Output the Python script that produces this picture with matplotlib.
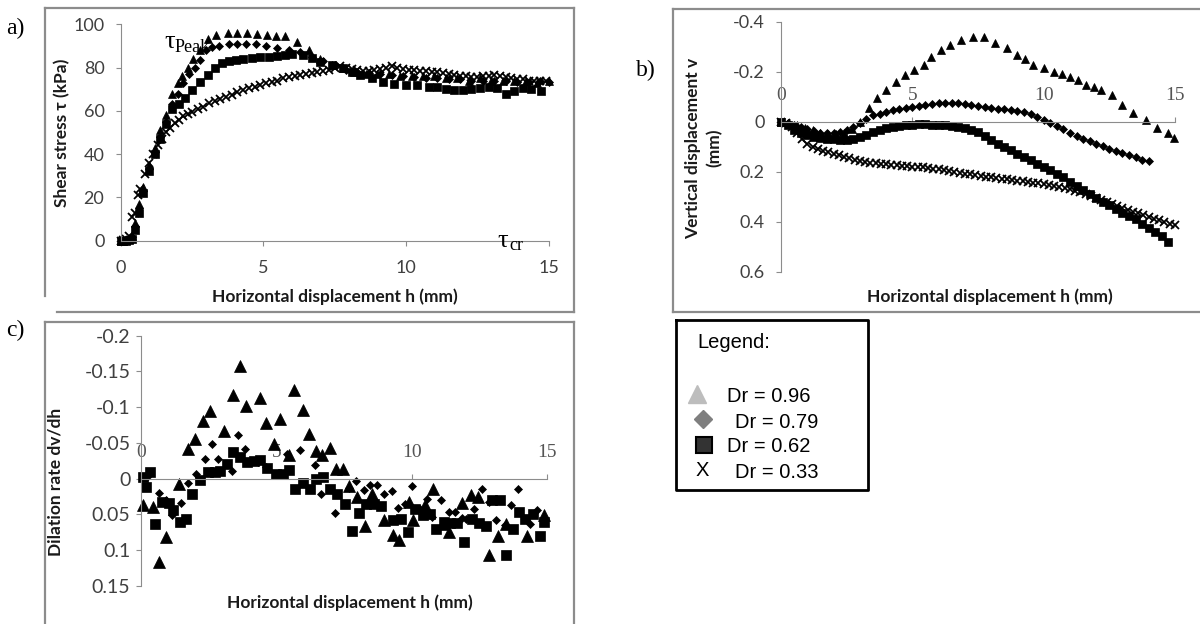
import matplotlib
matplotlib.use("Agg")
import matplotlib.pyplot as plt
from matplotlib.lines import Line2D

# ---------------- data: a) shear stress vs horizontal displacement ----------------
a_h_096 = [0, 0.1, 0.2, 0.3, 0.4, 0.5, 0.65, 0.8, 1.0, 1.2, 1.4, 1.6, 1.8, 2.0, 2.15, 2.35, 2.55, 2.8, 3.05, 3.35,
           3.75, 4.1, 4.45, 4.8, 5.15, 5.45, 5.75, 6.2, 6.6, 7.0, 7.4, 7.8, 8.2, 8.6, 9.0, 9.4, 9.8, 10.2, 10.6, 11.0,
           11.4, 11.8, 12.2, 12.6, 13.0, 13.4, 13.8, 14.2, 14.6, 15.0]
a_t_096 = [0, 0, 0.5, 1, 2, 8, 17, 25, 35, 43, 51, 58, 68, 73, 76, 80, 84, 88, 93, 95,
           96, 96, 96, 95.5, 95, 94.5, 94.5, 92, 88, 84, 81, 80, 78, 77, 77, 77, 76, 76, 76, 76,
           75, 75, 74, 75, 74, 74, 74, 74, 73, 74]
a_h_079 = [0, 0.1, 0.2, 0.3, 0.4, 0.5, 0.65, 0.8, 1.0, 1.2, 1.4, 1.6, 1.8, 2.0, 2.2, 2.4, 2.6, 2.8, 3.0, 3.2,
           3.45, 3.8, 4.1, 4.4, 4.75, 5.1, 5.5, 5.9, 6.3, 6.7, 7.1, 7.5, 7.9, 8.3, 8.7, 9.1, 9.5, 9.9, 10.3, 10.7,
           11.1, 11.5, 11.9, 12.3, 12.7, 13.1, 13.5, 13.9, 14.3, 14.7, 15.0]
a_t_079 = [0, 0, 0.5, 1, 1.5, 7, 15, 23, 33, 41, 48, 55, 63, 68, 73, 77, 80, 83.5, 88, 89.5,
           90, 91, 91, 91, 90.7, 90, 89, 88, 87, 85, 83, 81, 79, 78, 77.5, 77, 76.5, 76, 75.5, 75,
           75, 74.5, 74.5, 74, 74, 74, 74, 73.5, 73.5, 74, 73.5]
a_h_062 = [0, 0.1, 0.2, 0.3, 0.4, 0.5, 0.65, 0.8, 1.0, 1.2, 1.4, 1.6, 1.8, 2.05, 2.27, 2.5, 2.8, 3.05, 3.3, 3.55,
           3.8, 4.05, 4.3, 4.6, 4.9, 5.2, 5.5, 5.75, 6.0, 6.4, 6.7, 7.0, 7.4, 7.8, 8.1, 8.4, 8.8, 9.2, 9.6, 10.0,
           10.4, 10.8, 11.1, 11.4, 11.7, 12.0, 12.3, 12.6, 12.9, 13.2, 13.5, 13.8, 14.1, 14.4, 14.75]
a_t_062 = [0, 0, 0, 0.5, 1, 5, 13, 22, 32, 40, 47, 54, 61, 63, 66, 69.5, 73.5, 76.5, 80, 82,
           83, 83.5, 84, 84.5, 85, 85, 85.5, 86, 86.3, 86, 84.5, 82.5, 81, 80, 78, 76.5, 75, 73.5, 72.5, 72,
           72, 71, 71, 70, 69.5, 69.5, 70, 70.5, 71, 70.5, 68, 69, 70.5, 70, 69]
a_h_033 = [0, 0.1, 0.2, 0.3, 0.4, 0.5, 0.6, 0.7, 0.85, 1.0, 1.15, 1.3, 1.45, 1.6, 1.75, 1.9, 2.05, 2.2, 2.35, 2.5,
           2.7, 2.9, 3.1, 3.3, 3.5, 3.7, 3.9, 4.1, 4.3, 4.5, 4.7, 4.9, 5.1, 5.3, 5.5, 5.7, 5.9, 6.1, 6.3, 6.5,
           6.7, 6.9, 7.1, 7.3, 7.5, 7.7, 7.9, 8.1, 8.3, 8.5, 8.7, 8.9, 9.1, 9.3, 9.5, 9.7, 9.9, 10.1, 10.3, 10.5,
           10.7, 10.9, 11.1, 11.3, 11.5, 11.7, 11.9, 12.1, 12.3, 12.5, 12.7, 12.9, 13.1, 13.3, 13.5, 13.7, 13.9,
           14.1, 14.3, 14.5, 14.7, 14.9]
a_t_033 = [0, 0.5, 1, 2, 11, 13, 21, 24, 31, 36, 40, 44, 47, 50, 52, 54.5, 56, 57.5, 58.5, 59.5,
           61, 62, 63.5, 64.5, 65.5, 66.5, 67.5, 68.5, 69.5, 70.5, 71, 72, 73, 73.5, 74, 75, 75.5, 76, 76.5, 77,
           77.5, 78, 78.5, 79, 80, 80.5, 80, 79.5, 79, 78.5, 78.5, 79, 79.5, 80, 80.5, 80, 79.5, 79, 79, 78.5,
           78.5, 78, 78, 77.5, 77, 76.5, 76, 76, 75.5, 75.5, 76, 76, 76.5, 76, 75.5, 75, 74.5,
           74.5, 74, 74, 74, 74]

# ---------------- data: b) vertical displacement ----------------
b_h_096 = [0, 0.3, 0.6, 0.9, 1.2, 1.5, 1.8, 2.1, 2.4, 2.7, 3.0, 3.35, 3.64, 4.0, 4.36, 4.72, 5.07, 5.43, 5.71, 6.08,
           6.43, 6.87, 7.3, 7.73, 8.15, 8.59, 9.0, 9.3, 9.59, 10.0, 10.4, 10.7, 11.0, 11.3, 11.6, 11.9, 12.17, 12.6,
           13.0, 13.4, 13.9, 14.3, 14.73, 14.97]
b_v_096 = [0, 0.005, 0.015, 0.025, 0.035, 0.045, 0.05, 0.05, 0.045, 0.03, 0.0, -0.054, -0.094, -0.127, -0.16,
           -0.187, -0.207, -0.227, -0.26, -0.287, -0.307, -0.327, -0.338, -0.338, -0.314, -0.294, -0.267, -0.25,
           -0.227, -0.214, -0.2, -0.19, -0.18, -0.165, -0.147, -0.14, -0.127, -0.107, -0.067, -0.034, -0.007,
           0.026, 0.045, 0.066]
b_h_079 = [0, 0.25, 0.5, 0.75, 1.0, 1.25, 1.5, 1.75, 2.0, 2.25, 2.5, 2.75, 3.0, 3.25, 3.5, 3.75, 4.0, 4.25, 4.5,
           4.75, 5.0, 5.25, 5.5, 5.75, 6.0, 6.25, 6.5, 6.75, 7.0, 7.25, 7.5, 7.75, 8.0, 8.25, 8.5, 8.75, 9.0, 9.25,
           9.5, 9.75, 10.0, 10.25, 10.5, 10.75, 11.0, 11.25, 11.5, 11.75, 12.0, 12.25, 12.5, 12.75, 13.0, 13.25,
           13.5, 13.75, 14.0]
b_v_079 = [0, 0.005, 0.012, 0.02, 0.03, 0.038, 0.045, 0.047, 0.045, 0.04, 0.035, 0.02, 0.005, -0.01, -0.025,
           -0.032, -0.04, -0.045, -0.05, -0.055, -0.06, -0.063, -0.067, -0.07, -0.074, -0.076, -0.075, -0.073,
           -0.07, -0.065, -0.061, -0.058, -0.055, -0.052, -0.05, -0.047, -0.042, -0.037, -0.031, -0.02, -0.008,
           0.004, 0.016, 0.03, 0.045, 0.057, 0.068, 0.078, 0.088, 0.098, 0.108, 0.117, 0.126, 0.134, 0.143,
           0.153, 0.158]
b_h_062 = [0, 0.25, 0.5, 0.75, 1.0, 1.25, 1.5, 1.75, 2.0, 2.25, 2.5, 2.75, 3.0, 3.25, 3.5, 3.75, 4.0, 4.25, 4.5,
           4.75, 5.0, 5.25, 5.5, 5.75, 6.0, 6.25, 6.5, 6.75, 7.0, 7.25, 7.5, 7.75, 8.0, 8.25, 8.5, 8.75, 9.0, 9.25,
           9.5, 9.75, 10.0, 10.25, 10.5, 10.75, 11.0, 11.25, 11.5, 11.75, 12.0, 12.25, 12.5, 12.75, 13.0, 13.25,
           13.5, 13.75, 14.0, 14.25, 14.5, 14.75]
b_v_062 = [0, 0.015, 0.033, 0.045, 0.055, 0.062, 0.066, 0.068, 0.07, 0.072, 0.072, 0.068, 0.062, 0.055, 0.042,
           0.032, 0.025, 0.02, 0.016, 0.013, 0.012, 0.011, 0.011, 0.012, 0.013, 0.014, 0.016, 0.02, 0.025, 0.032,
           0.042, 0.058, 0.075, 0.088, 0.1, 0.115, 0.128, 0.14, 0.155, 0.168, 0.18, 0.195, 0.208, 0.222, 0.24,
           0.258, 0.275, 0.29, 0.305, 0.32, 0.333, 0.35, 0.365, 0.377, 0.39, 0.41, 0.425, 0.44, 0.457, 0.48]
b_h_033 = [0, 0.2, 0.4, 0.6, 0.8, 1.0, 1.2, 1.4, 1.6, 1.8, 2.0, 2.2, 2.4, 2.6, 2.8, 3.0, 3.2, 3.4, 3.6, 3.8,
           4.0, 4.2, 4.4, 4.6, 4.8, 5.0, 5.2, 5.4, 5.6, 5.8, 6.0, 6.2, 6.4, 6.6, 6.8, 7.0, 7.2, 7.4, 7.6, 7.8,
           8.0, 8.2, 8.4, 8.6, 8.8, 9.0, 9.2, 9.4, 9.6, 9.8, 10.0, 10.2, 10.4, 10.6, 10.8, 11.0, 11.2, 11.4,
           11.6, 11.8, 12.0, 12.2, 12.4, 12.6, 12.8, 13.0, 13.2, 13.4, 13.6, 13.8, 14.0, 14.2, 14.4, 14.6,
           14.8, 15.0]
b_v_033 = [0, 0.005, 0.02, 0.045, 0.07, 0.088, 0.1, 0.11, 0.117, 0.123, 0.128, 0.134, 0.14, 0.146, 0.152,
           0.158, 0.162, 0.165, 0.167, 0.169, 0.171, 0.173, 0.175, 0.177, 0.178, 0.18, 0.181, 0.183, 0.185,
           0.188, 0.191, 0.194, 0.197, 0.2, 0.204, 0.208, 0.211, 0.214, 0.217, 0.22, 0.223, 0.226, 0.229,
           0.231, 0.234, 0.237, 0.239, 0.241, 0.244, 0.247, 0.25, 0.253, 0.256, 0.26, 0.265, 0.27, 0.276,
           0.283, 0.29, 0.297, 0.304, 0.312, 0.32, 0.328, 0.336, 0.344, 0.352, 0.36, 0.367, 0.374, 0.381,
           0.388, 0.395, 0.402, 0.408, 0.414]

# ---------------- data: c) dilation rate ----------------
c_h_096 = [0.09, 0.46, 0.68, 0.94, 1.4, 1.72, 2.0, 2.3, 2.56, 3.08, 3.4, 3.66, 3.87, 4.39, 4.62, 4.9, 5.15, 5.48,
           5.66, 5.98, 6.19, 6.45, 6.68, 7.0, 7.2, 7.46, 7.7, 7.98, 8.27, 8.55, 8.98, 9.3, 9.55, 9.89, 10.05,
           10.5, 10.8, 11.14, 11.39, 11.87, 12.18, 12.46, 12.87, 13.18, 13.5, 14.25, 14.9]
c_d_096 = [0.037, 0.040, 0.117, 0.082, 0.007, -0.041, -0.056, -0.081, -0.095, -0.067, -0.117, -0.157, -0.101,
           -0.113, -0.078, -0.048, -0.083, -0.033, -0.124, -0.096, -0.062, -0.039, -0.033, -0.043, -0.014,
           -0.014, 0.010, 0.026, 0.066, 0.021, 0.058, 0.079, 0.086, 0.033, 0.058, 0.037, 0.014, 0.063, 0.075,
           0.034, 0.023, 0.026, 0.107, 0.081, 0.063, 0.081, 0.051]
c_h_079 = [0.21, 0.68, 0.94, 1.15, 1.47, 1.72, 2.03, 2.38, 2.63, 2.84, 3.37, 3.6, 3.85, 4.32, 4.62, 4.97, 5.39,
           5.88, 6.42, 6.64, 7.17, 7.67, 7.95, 8.23, 8.46, 8.73, 8.98, 9.26, 9.49, 9.74, 10.03, 10.3, 10.55,
           10.74, 11.09, 11.37, 11.59, 11.87, 12.02, 12.31, 12.59, 12.87, 13.12, 13.43, 13.68, 13.93, 14.37, 14.62]
c_d_079 = [-0.002, 0.02, 0.030, 0.051, 0.034, 0.006, -0.006, -0.028, -0.049, -0.028, -0.011, -0.061, -0.041,
           -0.023, -0.016, -0.006, -0.035, -0.040, -0.019, 0.021, 0.048, 0.013, 0.003, 0.016, 0.009, 0.009, 0.022,
           0.017, 0.041, 0.035, 0.011, 0.042, 0.028, 0.054, 0.030, 0.047, 0.047, 0.055, 0.057, 0.043, 0.014,
           0.033, 0.058, 0.065, 0.037, 0.014, 0.063, 0.044]
c_h_062 = [0.09, 0.19, 0.34, 0.53, 0.78, 1.03, 1.19, 1.44, 1.68, 1.9, 2.19, 2.47, 2.72, 2.91, 3.17, 3.41, 3.66,
           3.91, 4.16, 4.41, 4.66, 4.97, 5.23, 5.48, 5.7, 5.98, 6.23, 6.45, 6.73, 7.0, 7.23, 7.54, 7.8, 8.05,
           8.33, 8.61, 8.86, 9.32, 9.61, 9.86, 10.11, 10.43, 10.68, 10.89, 11.18, 11.43, 11.68, 11.93, 12.24,
           12.49, 12.74, 12.97, 13.25, 13.5, 13.75, 13.97, 14.19, 14.47, 14.75, 14.9]
c_d_062 = [-0.002, 0.012, -0.009, 0.064, 0.033, 0.034, 0.044, 0.061, 0.057, 0.021, 0.002, -0.009, -0.009, -0.011,
           -0.020, -0.037, -0.030, -0.023, -0.025, -0.026, -0.015, -0.007, -0.007, -0.012, 0.015, 0.006, 0.014,
           0.001, -0.002, 0.014, 0.021, 0.035, 0.073, 0.048, 0.035, 0.036, 0.039, 0.058, 0.057, 0.075, 0.042,
           0.051, 0.050, 0.071, 0.061, 0.062, 0.062, 0.089, 0.056, 0.062, 0.067, 0.030, 0.030, 0.107, 0.070,
           0.047, 0.057, 0.049, 0.081, 0.061]

legend_labels = ["Dr = 0.96", "Dr = 0.79", "Dr = 0.62", "Dr = 0.33"]
x_ticks = [0, 5, 10, 15]
a_yticks = [0, 20, 40, 60, 80, 100]
b_yticks = [-0.4, -0.2, 0, 0.2, 0.4, 0.6]
b_ylabels = ["-0.4", "-0.2", "0", "0.2", "0.4", "0.6"]
c_yticks = [-0.2, -0.15, -0.1, -0.05, 0, 0.05, 0.1, 0.15]
c_ylabels = ["-0.2", "-0.15", "-0.1", "-0.05", "0", "0.05", "0.1", "0.15"]

W, H = 1200, 624
GREY = "#8c8c8c"
TICKC = "#404040"
SANS = ["Lato", "DejaVu Sans"]

fig = plt.figure(figsize=(12, 6.24), dpi=100)


def px_axes(x0, x1, y0, y1):
    return fig.add_axes([x0 / W, 1 - y1 / H, (x1 - x0) / W, (y1 - y0) / H])


def fline(xs, ys, **kw):
    fig.add_artist(Line2D([x / W for x in xs], [1 - y / H for y in ys], transform=fig.transFigure, **kw))


def ftext(x, y, s, **kw):
    fig.text(x / W, 1 - y / H, s, **kw)


def style(ax, size=13):
    for s in ["right", "bottom", "top", "left"]:
        ax.spines[s].set_color(GREY)
    ax.set_facecolor("none")
    ax.tick_params(colors=GREY, labelcolor=TICKC, length=3.6, labelsize=size)
    for lab in ax.get_yticklabels():
        lab.set_family(SANS)


def series(ax, h, v, m, ms, mew=0.5):
    ax.plot(h, v, ls="none", marker=m, ms=ms, mfc="k", mec="k", mew=mew, clip_on=False)


# ---------------- panel a ----------------
ax = px_axes(120.5, 548.5, 24.3, 240.7)
series(ax, a_h_033, a_t_033, "x", 6, 1.3)
series(ax, a_h_062, a_t_062, "s", 5.5)
series(ax, a_h_079, a_t_079, "D", 4)
series(ax, a_h_096, a_t_096, "^", 6)
ax.set_xlim(0, 15)
ax.set_ylim(0, 100)
ax.set_xticks(x_ticks)
ax.set_yticks(a_yticks)
ax.spines["right"].set_visible(False)
ax.spines["top"].set_visible(False)
style(ax)
ax.tick_params(axis="y", pad=8)
ax.tick_params(axis="x", pad=10.5)
for lab in ax.get_xticklabels():
    lab.set_family(SANS)

# ---------------- panel b ----------------
ax = px_axes(781, 1175, 21.7, 271.7)
series(ax, b_h_033, b_v_033, "x", 6, 1.3)
series(ax, b_h_062, b_v_062, "s", 5.5)
series(ax, b_h_079, b_v_079, "D", 4)
series(ax, b_h_096, b_v_096, "^", 6)
ax.set_xlim(0, 15)
ax.set_ylim(0.6, -0.4)
ax.set_xticks(x_ticks)
ax.set_yticks(b_yticks, b_ylabels)
ax.spines["top"].set_position(("data", 0))
ax.spines["bottom"].set_visible(False)
ax.spines["right"].set_visible(False)
ax.xaxis.set_ticks_position("top")
style(ax)
ax.tick_params(axis="y", pad=8.2)
ax.tick_params(axis="x", pad=9, labelcolor="#555555")
for lab in ax.get_xticklabels():
    lab.set_family("Liberation Serif")
    lab.set_fontsize(14)

# ---------------- panel c ----------------
ax = px_axes(141, 547, 335.7, 585.7)
series(ax, c_h_062, c_d_062, "s", 6.5)
series(ax, c_h_079, c_d_079, "D", 4)
series(ax, c_h_096, c_d_096, "^", 8)
ax.set_xlim(0, 15)
ax.set_ylim(0.15, -0.2)
ax.set_xticks(x_ticks)
ax.set_yticks(c_yticks, c_ylabels)
ax.spines["top"].set_position(("data", 0))
ax.spines["bottom"].set_visible(False)
ax.spines["right"].set_visible(False)
ax.xaxis.set_ticks_position("top")
style(ax, 14)
ax.tick_params(axis="y", pad=4)
ax.tick_params(axis="x", pad=9, labelcolor="#555555")
for lab in ax.get_xticklabels():
    lab.set_family("Liberation Serif")
    lab.set_fontsize(14)

# ---------------- frames ----------------
fl = dict(color=GREY, lw=1.6)
fline([45, 45], [8, 296], **fl)
fline([45, 574], [8, 8], **fl)
fline([574, 574], [8, 312], **fl)
fline([57, 574], [312, 312], **fl)
fline([673, 673], [9, 312], **fl)
fline([673, 1200], [9, 9], **fl)
fline([673, 1200], [312, 312], **fl)
fline([45, 45], [322, 624], **fl)
fline([45, 574], [322, 322], **fl)
fline([574, 574], [322, 624], **fl)

# ---------------- axis titles ----------------
lab_kw = dict(family=SANS, fontweight="bold", fontsize=12.5, color="#1a1a1a")
ftext(335, 297, "Horizontal displacement h (mm)", ha="center", va="center", **lab_kw)
ftext(990, 297, "Horizontal displacement h (mm)", ha="center", va="center", **lab_kw)
ftext(350, 603, "Horizontal displacement h (mm)", ha="center", va="center", **lab_kw)
ftext(62, 133, "Shear stress τ (kPa)", ha="center", va="center", rotation=90, **lab_kw)
ftext(704, 148, "Vertical displacement v\n(mm)", ha="center", va="center", rotation=90,
      linespacing=1.35, **lab_kw)
ftext(56, 482, "Dilation rate dv/dh", ha="center", va="center", rotation=90, **lab_kw)

# ---------------- panel letters and annotations ----------------
serif = "Liberation Serif"
ftext(6, 28, "a)", ha="left", va="center", family=serif, fontsize=17)
ftext(636, 70, "b)", ha="left", va="center", family=serif, fontsize=17)
ftext(6, 330, "c)", ha="left", va="center", family=serif, fontsize=17)
ftext(164, 42, "τ", ha="left", va="center", family=serif, fontsize=19)
ftext(175, 47, "Peak", ha="left", va="center", family=serif, fontsize=13)
ftext(497, 241, "τ", ha="left", va="center", family=serif, fontsize=19)
ftext(509, 246, "cr", ha="left", va="center", family=serif, fontsize=13)

# ---------------- legend box ----------------
fline([676, 868, 868, 676, 676], [320, 320, 490, 490, 320], color="k", lw=2)
leg_kw = dict(family="Liberation Sans", fontsize=14.5, color="k", va="center", ha="left")
ftext(697, 343, "Legend:", **leg_kw)
fig.add_artist(Line2D([697 / W], [1 - 394 / H], marker="^", ms=13, mfc="#bdbdbd", mec="#bdbdbd",
                      ls="none", transform=fig.transFigure))
fig.add_artist(Line2D([703 / W], [1 - 419 / H], marker="D", ms=9, mfc="#7f7f7f", mec="#7f7f7f",
                      ls="none", transform=fig.transFigure))
fig.add_artist(Line2D([704 / W], [1 - 445 / H], marker="s", ms=12, mfc="#333333", mec="k", mew=1.5,
                      ls="none", transform=fig.transFigure))
ftext(696, 471, "X", **leg_kw)
ftext(727, 397, legend_labels[0], **leg_kw)
ftext(735, 422, legend_labels[1], **leg_kw)
ftext(727, 447, legend_labels[2], **leg_kw)
ftext(735, 472, legend_labels[3], **leg_kw)

fig.savefig("out.png", dpi=100)
